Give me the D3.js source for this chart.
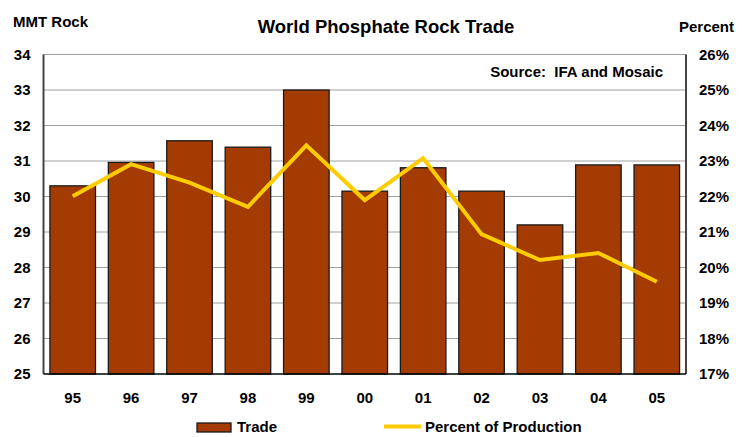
<!DOCTYPE html>
<html><head><meta charset="utf-8">
<script src="https://cdn.jsdelivr.net/npm/d3@7"></script>
<style>body{margin:0;background:#fff;} text{font-family:"Liberation Sans",Arial,sans-serif;font-weight:bold;fill:#000;}</style>
</head><body>
<svg id="c" width="742" height="437"></svg>
<script>
const categories = ["95","96","97","98","99","00","01","02","03","04","05"];
const tradeValues = [30.30,30.96,31.57,31.39,33.00,30.15,30.81,30.15,29.20,30.89,30.89];
const percentValues = [22.01,22.91,22.39,21.71,23.44,21.90,23.08,20.94,20.21,20.41,19.60];
const leftTicks = [25,26,27,28,29,30,31,32,33,34];
const rightTicks = [17,18,19,20,21,22,23,24,25,26];

const svg = d3.select("#c");
const L = 43.5, R = 686, T = 54.5, B = 374;
const x = d3.scaleBand().domain(categories).range([L, R]).paddingInner(0.22).paddingOuter(0.11);
const yL = d3.scaleLinear().domain([25,34]).range([B, T]);
const yR = d3.scaleLinear().domain([17,26]).range([B, T]);

// gridlines
svg.append("g").selectAll("line").data(leftTicks.slice(1)).join("line")
  .attr("x1", L).attr("x2", R).attr("y1", d=>yL(d)).attr("y2", d=>yL(d))
  .attr("stroke", "#a0a0a0").attr("stroke-width", 1);

// bars
svg.append("g").selectAll("rect").data(tradeValues).join("rect")
  .attr("x", (d,i)=>x(categories[i])).attr("width", x.bandwidth())
  .attr("y", d=>yL(d)).attr("height", d=>yL(25)-yL(d))
  .attr("fill", "#A33B03").attr("stroke", "#1a1a1a").attr("stroke-width", 1.3);

// axes frame
svg.append("line").attr("x1", L).attr("x2", L).attr("y1", T).attr("y2", B).attr("stroke", "#444").attr("stroke-width", 2);
svg.append("line").attr("x1", R).attr("x2", R).attr("y1", T).attr("y2", B).attr("stroke", "#444").attr("stroke-width", 2);
svg.append("line").attr("x1", L).attr("x2", R).attr("y1", B).attr("y2", B).attr("stroke", "#000").attr("stroke-width", 1.5);

// line
const line = d3.line().x((d,i)=>x(categories[i]) + x.bandwidth()/2).y(d=>yR(d));
svg.append("path").datum(percentValues).attr("d", line)
  .attr("fill", "none").attr("stroke", "#FFCC00").attr("stroke-width", 4).attr("stroke-linejoin", "miter");

const fs = "15px";
// left axis labels
const axL = d3.axisLeft(yL).tickValues(leftTicks).tickSize(0).tickPadding(13).tickFormat(d3.format("d"));
const gL = svg.append("g").attr("transform", `translate(${L},0)`).call(axL);
gL.select(".domain").remove();
gL.selectAll("text").style("font-size",fs).style("font-family","Liberation Sans, Arial, sans-serif").style("font-weight","bold").attr("fill","#000");

const axR = d3.axisRight(yR).tickValues(rightTicks).tickSize(0).tickPadding(13).tickFormat(d=>d+"%");
const gR = svg.append("g").attr("transform", `translate(${R},0)`).call(axR);
gR.select(".domain").remove();
gR.selectAll("text").style("font-size",fs).style("font-family","Liberation Sans, Arial, sans-serif").style("font-weight","bold").attr("fill","#000");

const axB = d3.axisBottom(x).tickSize(0).tickPadding(18);
const gB = svg.append("g").attr("transform", `translate(0,${B})`).call(axB);
gB.select(".domain").remove();
gB.selectAll("text").style("font-size",fs).style("font-family","Liberation Sans, Arial, sans-serif").style("font-weight","bold").attr("fill","#000");

// titles
svg.append("text").attr("x", 386).attr("y", 33).attr("text-anchor","middle").style("font-size","18.5px").text("World Phosphate Rock Trade");
svg.append("text").attr("x", 13).attr("y", 27).style("font-size","15px").text("MMT Rock");
svg.append("text").attr("x", 679).attr("y", 32).style("font-size","15px").text("Percent");
svg.append("text").attr("x", 663).attr("y", 77).attr("text-anchor","end").style("font-size","15px").attr("xml:space","preserve").text("Source:  IFA and Mosaic");

// legend
svg.append("rect").attr("x", 197).attr("y", 423).attr("width", 34).attr("height", 9).attr("fill", "#A33B03").attr("stroke","#1a1a1a").attr("stroke-width",1.3);
svg.append("text").attr("x", 237).attr("y", 432).style("font-size",fs).text("Trade");
svg.append("line").attr("x1", 384).attr("x2", 421).attr("y1", 426.5).attr("y2", 426.5).attr("stroke","#FFCC00").attr("stroke-width",4);
svg.append("text").attr("x", 425).attr("y", 432).style("font-size",fs).text("Percent of Production");
</script>
</body></html>
